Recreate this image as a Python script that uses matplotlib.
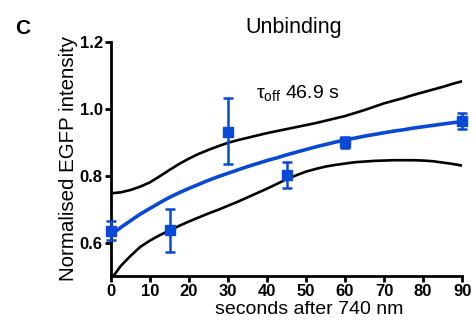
"""Unbinding: normalised EGFP intensity after 740 nm."""
import numpy as np
import matplotlib.pyplot as plt

plt.rcParams["font.family"] = ["Liberation Sans", "DejaVu Sans"]
plt.rcParams["mathtext.fontset"] = "custom"
plt.rcParams["mathtext.rm"] = "Liberation Sans"

BLUE = "#0a48d6"

# measured points (mean +/- error)
t_pts = [0, 15, 30, 45, 60, 90]
y_pts = [0.633, 0.636, 0.931, 0.802, 0.899, 0.964]
err_lo = [0.025, 0.065, 0.096, 0.040, 0.017, 0.025]
err_hi = [0.030, 0.064, 0.100, 0.038, 0.016, 0.024]

# fit and confidence band, every 2.5 s
t_curve = np.arange(0, 90.1, 2.5)
fit = [0.623, 0.645, 0.665, 0.685, 0.702, 0.719, 0.735, 0.749, 0.762, 0.774,
       0.786, 0.797, 0.807, 0.817, 0.827, 0.836, 0.845, 0.853, 0.862, 0.870,
       0.878, 0.886, 0.893, 0.900, 0.907, 0.912, 0.918, 0.923, 0.928, 0.933,
       0.937, 0.942, 0.946, 0.950, 0.954, 0.958, 0.961]
upper = [0.747, 0.750, 0.757, 0.767, 0.780, 0.798, 0.817, 0.835, 0.851, 0.865,
         0.877, 0.888, 0.898, 0.906, 0.913, 0.920, 0.927, 0.933, 0.939, 0.945,
         0.951, 0.957, 0.964, 0.971, 0.978, 0.987, 0.996, 1.006, 1.016, 1.024,
         1.032, 1.041, 1.049, 1.057, 1.065, 1.074, 1.082]
lower = [0.490, 0.530, 0.560, 0.587, 0.606, 0.622, 0.636, 0.650, 0.663, 0.675,
         0.687, 0.698, 0.710, 0.722, 0.735, 0.748, 0.761, 0.775, 0.789, 0.801,
         0.812, 0.820, 0.827, 0.832, 0.836, 0.840, 0.842, 0.844, 0.845, 0.846,
         0.846, 0.846, 0.845, 0.843, 0.839, 0.835, 0.830]

fig = plt.figure(figsize=(4.77, 3.2), dpi=100)
ax = fig.add_axes([0.2327, 0.1375, 0.736, 0.732])

ax.plot(t_curve, upper, color="black", lw=1.9, zorder=2)
ax.plot(t_curve, lower, color="black", lw=1.9, zorder=2)
ax.plot(t_curve, fit, color=BLUE, lw=2.6, zorder=3)
ax.errorbar(t_pts, y_pts, yerr=[err_lo, err_hi], fmt="s", color=BLUE, ms=6.5,
            elinewidth=1.8, capsize=3.8, capthick=1.8, zorder=4, clip_on=False)

ax.set_xlim(0, 90)
ax.set_ylim(0.5, 1.2)
ax.set_xticks(np.arange(0, 91, 10))
ax.set_yticks([0.6, 0.8, 1.0, 1.2])
ax.set_yticklabels(["0.6", "0.8", "1.0", "1.2"])
for s in ["top", "right"]:
    ax.spines[s].set_visible(False)
for s in ["left", "bottom"]:
    ax.spines[s].set_linewidth(2)
ax.tick_params(direction="out", length=4.5, width=2, labelsize=12, pad=1.5)
for lab in ax.get_xticklabels() + ax.get_yticklabels():
    lab.set_fontweight("bold")

ax.set_xlabel("seconds after 740 nm", fontsize=14, va="baseline")
ax.xaxis.set_label_coords(0.564, -0.163)
ax.set_ylabel("Normalised EGFP intensity", fontsize=14.8, labelpad=1)
ax.set_title("Unbinding", fontsize=15.5, pad=6, x=0.52)
ax.text(37.2, 1.045, r"τ$_{\mathrm{off}}$ 46.9 s", fontsize=14, va="center")
fig.text(0.031, 0.9125, "C", fontsize=15, fontweight="bold", va="center")

fig.savefig("out.png", dpi=100)
